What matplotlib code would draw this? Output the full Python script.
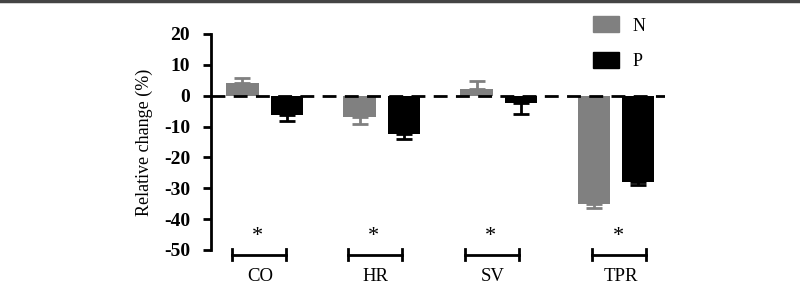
import matplotlib.pyplot as plt
import numpy as np
from matplotlib.lines import Line2D

categories = ['CO', 'HR', 'SV', 'TPR']
n_values = [4.2, -7.0, 2.2, -35.2]
n_errors = [1.6, 2.3, 2.6, 1.1]
p_values = [-6.1, -12.5, -2.5, -28.0]
p_errors = [2.0, 1.5, 3.5, 0.8]
series_labels = ['N', 'P']
yticks = [20, 10, 0, -10, -20, -30, -40, -50]

plt.rcParams['font.family'] = ['Liberation Serif', 'DejaVu Serif']

fig = plt.figure(figsize=(8, 2.85), dpi=100)
ax = fig.add_axes([211 / 800, 1 - 250 / 285, 454 / 800, 216 / 285])

x = np.arange(len(categories))
off = 0.19
w = 0.275
gray = '#808080'

# bars with one-sided error bars (away from zero)
for vals, errs, dx, col in [(n_values, n_errors, -off, gray), (p_values, p_errors, off, 'black')]:
    ax.bar(x + dx, vals, width=w, color=col, zorder=2)
    lo = [e if v < 0 else 0 for v, e in zip(vals, errs)]
    hi = [e if v >= 0 else 0 for v, e in zip(vals, errs)]
    ax.errorbar(x + dx, vals, yerr=[lo, hi], fmt='none', ecolor=col,
                elinewidth=2, capsize=6, capthick=2, zorder=1)

ax.axhline(0, color='black', linestyle=(0, (5, 3)), linewidth=2, zorder=3)

# significance brackets below the axis, with category names under them
by = -51.5
shift = [-0.05, -0.06, -0.06, 0.03]
for xi, name, s in zip(x, categories, shift):
    cx = xi + s
    ax.plot([cx - 0.23, cx + 0.23], [by, by], color='black', lw=2, clip_on=False)
    for ex in (cx - 0.23, cx + 0.23):
        ax.plot([ex, ex], [by - 1.8, by + 1.8], color='black', lw=2, clip_on=False)
    ax.text(cx - 0.01, -45.6, '*', ha='center', va='center', fontsize=16, clip_on=False)
    ax.text(cx + 0.01, -58.6, name, ha='center', va='center', fontsize=13.5)

ax.set_xlim(-0.459, 3.42)
ax.set_ylim(-50, 20)
ax.set_yticks(yticks)
ax.set_yticklabels([str(t) for t in yticks], fontsize=14, fontweight='bold')
ax.set_xticks([])
for s in ['top', 'right', 'bottom']:
    ax.spines[s].set_visible(False)
ax.spines['left'].set_linewidth(2)
ax.tick_params(axis='y', direction='out', length=6, width=2, pad=9)
ax.set_ylabel('Relative change (%)', fontsize=13, labelpad=8)

handles = [plt.Rectangle((0, 0), 1, 1, color=gray), plt.Rectangle((0, 0), 1, 1, color='black')]
fig.legend(handles, series_labels, loc='upper left', bbox_to_anchor=(577 / 800, 1.0),
           frameon=False, fontsize=13, handlelength=1.4, handleheight=1.0,
           labelspacing=0.95, handletextpad=0.8)

# thin frame line at the top of the image
fig.add_artist(Line2D([0, 1], [1 - 1 / 285, 1 - 1 / 285], color='#444444', lw=2.5))

fig.savefig('out.png', dpi=100)
